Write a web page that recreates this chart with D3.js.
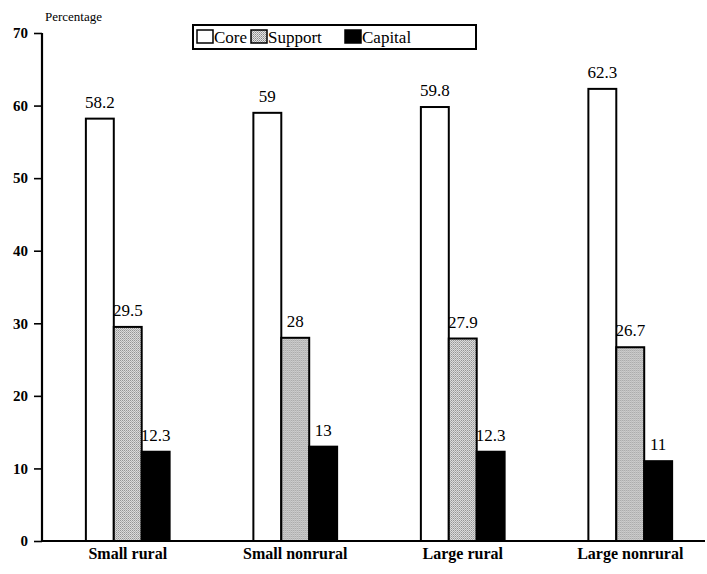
<!DOCTYPE html>
<html>
<head>
<meta charset="utf-8">
<script src="https://cdn.jsdelivr.net/npm/d3@7"></script>
<style>
  body { margin: 0; background: #fff; }
  svg text { font-family: "Liberation Serif", "DejaVu Serif", serif; fill: #000; }
</style>
</head>
<body>
<div id="chart"></div>
<script>
// data
var categories = ["Small rural", "Small nonrural", "Large rural", "Large nonrural"];
var series = ["Core", "Support", "Capital"];
var coreValues = [58.2, 59, 59.8, 62.3];
var supportValues = [29.5, 28, 27.9, 26.7];
var capitalValues = [12.3, 13, 12.3, 11];
var yTicks = [0, 10, 20, 30, 40, 50, 60, 70];

var width = 707, height = 574;
var serif = "'Liberation Serif', 'DejaVu Serif', serif";

var svg = d3.select("#chart")
    .append("svg")
    .attr("width", width)
    .attr("height", height)
    .attr("font-family", serif);

// stipple pattern for the support bars
var defs = svg.append("defs");
var pat = defs.append("pattern")
    .attr("id", "stipple")
    .attr("patternUnits", "userSpaceOnUse")
    .attr("width", 2)
    .attr("height", 2);
pat.append("rect").attr("width", 2).attr("height", 2).attr("fill", "#e4e4e4");
pat.append("rect").attr("width", 1).attr("height", 1).attr("fill", "#8a8a8a");
pat.append("rect").attr("x", 1).attr("y", 1).attr("width", 1).attr("height", 1).attr("fill", "#a8a8a8");

var fills = { Core: "#fff", Support: "url(#stipple)", Capital: "#000" };

var rows = categories.map(function (c, i) {
    return { cat: c, Core: coreValues[i], Support: supportValues[i], Capital: capitalValues[i] };
});

var x0 = d3.scaleBand()
    .domain(categories)
    .range([44, 714])
    .paddingInner(0.5)
    .paddingOuter(0.25);

var x1 = d3.scaleBand()
    .domain(series)
    .range([0, x0.bandwidth()]);

var y = d3.scaleLinear()
    .domain([0, 70])
    .range([541, 33]);

// y axis
var yAxis = svg.append("g")
    .attr("transform", "translate(42,0)")
    .call(d3.axisLeft(y).tickValues(yTicks).tickSize(8).tickPadding(6).tickFormat(d3.format("d")));
yAxis.attr("font-family", serif);
yAxis.select(".domain").remove();
yAxis.selectAll(".tick line").attr("stroke", "#000").attr("stroke-width", 1.6);
yAxis.selectAll(".tick text")
    .style("font-size", "15px")
    .style("font-weight", "bold");

svg.append("line")
    .attr("x1", 42).attr("x2", 42)
    .attr("y1", y(70)).attr("y2", y(0) + 1)
    .attr("stroke", "#000").attr("stroke-width", 2.2);

svg.append("text")
    .attr("x", 45)
    .attr("y", 21)
    .style("font-size", "13px")
    .text("Percentage");

// bars
var groups = svg.selectAll(".group")
    .data(rows)
    .enter()
    .append("g")
    .attr("class", "group")
    .attr("transform", function (d) { return "translate(" + x0(d.cat) + ",0)"; });

groups.selectAll("rect")
    .data(function (d) { return series.map(function (s) { return { key: s, value: d[s] }; }); })
    .enter()
    .append("rect")
    .attr("x", function (d) { return x1(d.key); })
    .attr("y", function (d) { return y(d.value); })
    .attr("width", x1.bandwidth())
    .attr("height", function (d) { return y(0) - y(d.value); })
    .attr("fill", function (d) { return fills[d.key]; })
    .attr("stroke", "#000")
    .attr("stroke-width", 2);

groups.selectAll(".val")
    .data(function (d) { return series.map(function (s) { return { key: s, value: d[s] }; }); })
    .enter()
    .append("text")
    .attr("class", "val")
    .attr("x", function (d) { return x1(d.key) + x1.bandwidth() / 2; })
    .attr("y", function (d) { return y(d.value) - 11; })
    .attr("text-anchor", "middle")
    .style("font-size", "17px")
    .text(function (d) { return d.value; });

// x axis line
svg.append("line")
    .attr("x1", 41).attr("x2", 705)
    .attr("y1", y(0)).attr("y2", y(0))
    .attr("stroke", "#000").attr("stroke-width", 2.2);

svg.selectAll(".cat")
    .data(categories)
    .enter()
    .append("text")
    .attr("class", "cat")
    .attr("x", function (d) { return x0(d) + x0.bandwidth() / 2; })
    .attr("y", 559)
    .attr("text-anchor", "middle")
    .style("font-size", "16px")
    .style("font-weight", "bold")
    .text(function (d) { return d; });

// legend
var legend = svg.append("g");
legend.append("rect")
    .attr("x", 193).attr("y", 25)
    .attr("width", 283).attr("height", 24)
    .attr("fill", "#fff")
    .attr("stroke", "#000").attr("stroke-width", 2);

var legendX = [197, 251, 345];
var items = legend.selectAll(".item")
    .data(series)
    .enter()
    .append("g")
    .attr("transform", function (d, i) { return "translate(" + legendX[i] + ",30)"; });
items.append("rect")
    .attr("x", 0).attr("y", 0)
    .attr("width", 16).attr("height", 13)
    .attr("fill", function (d) { return fills[d]; })
    .attr("stroke", "#000").attr("stroke-width", 1.5);
items.append("text")
    .attr("x", 17)
    .attr("y", 13)
    .style("font-size", "17px")
    .text(function (d) { return d; });
</script>
</body>
</html>
